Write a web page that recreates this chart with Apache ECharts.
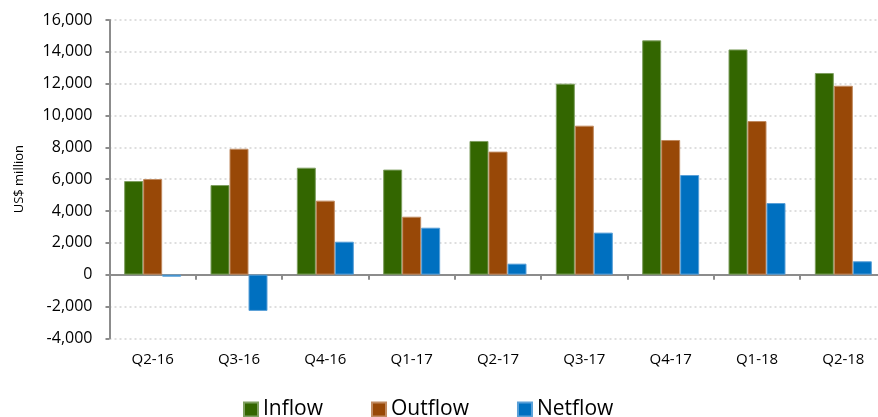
<!DOCTYPE html>
<html>
<head>
<meta charset="utf-8">
<script src="https://cdn.jsdelivr.net/npm/echarts@6/dist/echarts.min.js"></script>
<style>html,body{margin:0;padding:0;background:#fff}#c{width:878px;height:417px}</style>
</head>
<body>
<div id="c"></div>
<script>
const categories = ['Q2-16','Q3-16','Q4-16','Q1-17','Q2-17','Q3-17','Q4-17','Q1-18','Q2-18'];
const inflow  = [5880, 5630, 6720, 6600, 8400, 12000, 14720, 14150, 12670];
const outflow = [6010, 7910, 4650, 3640, 7730, 9360, 8460, 9650, 11870];
const netflow = [-130, -2280, 2070, 2950, 690, 2640, 6260, 4500, 840];
const yTicks = [-4000, 16000, 2000]; // min, max, interval

const FONT = 'Open Sans';
const chart = echarts.init(document.getElementById('c'), null, {renderer: 'canvas'});
function bar(name, data, color, border) {
  return {
    name, type: 'bar', data, barWidth: 19, barGap: '0%', xAxisIndex: 0,
    itemStyle: {color, borderColor: border, borderWidth: 1},
    emphasis: {disabled: true}
  };
}
chart.setOption({
  animation: false,
  textStyle: {fontFamily: FONT},
  grid: {left: 109.5, top: 20, width: 777, height: 318.3, containLabel: false, outerBoundsMode: 'none'},
  legend: {
    top: 394, left: 238, itemWidth: 14, itemHeight: 14, itemGap: 48,
    icon: 'rect',
    textStyle: {fontFamily: FONT, fontSize: 21, color: '#000'},
    data: ['Inflow', 'Outflow', 'Netflow']
  },
  xAxis: [{
    type: 'category', data: categories, boundaryGap: true,
    axisLine: {onZero: true, lineStyle: {color: '#8c8c8c', width: 2}},
    axisTick: {show: true, inside: false, length: 5, alignWithLabel: false, lineStyle: {color: '#8c8c8c', width: 2}},
    axisLabel: {show: false},
    splitLine: {show: false}
  }, {
    type: 'category', data: categories, boundaryGap: true, position: 'bottom',
    axisLine: {show: false, onZero: false},
    axisTick: {show: false},
    axisLabel: {margin: 14, fontFamily: FONT, fontSize: 15, color: '#000'},
    splitLine: {show: false}
  }],
  yAxis: {
    type: 'value', min: yTicks[0], max: yTicks[1], interval: yTicks[2],
    name: 'US$ million', nameLocation: 'middle', nameGap: 84, nameRotate: 90,
    nameTextStyle: {fontFamily: FONT, fontSize: 13, color: '#000'},
    axisLine: {show: true, lineStyle: {color: '#8c8c8c', width: 2}},
    axisTick: {show: true, length: 4, lineStyle: {color: '#8c8c8c', width: 2}},
    axisLabel: {margin: 17, fontFamily: FONT, fontSize: 16, color: '#000',
      formatter: v => v.toLocaleString('en-US')},
    splitLine: {show: true, lineStyle: {color: '#d4d4d4', type: [2, 3], width: 1.5}}
  },
  series: [
    bar('Inflow', inflow, '#336600', '#7f9f60'),
    bar('Outflow', outflow, '#984807', '#c08a60'),
    bar('Netflow', netflow, '#0070c0', '#5aa0d8')
  ]
});
</script>
</body>
</html>
